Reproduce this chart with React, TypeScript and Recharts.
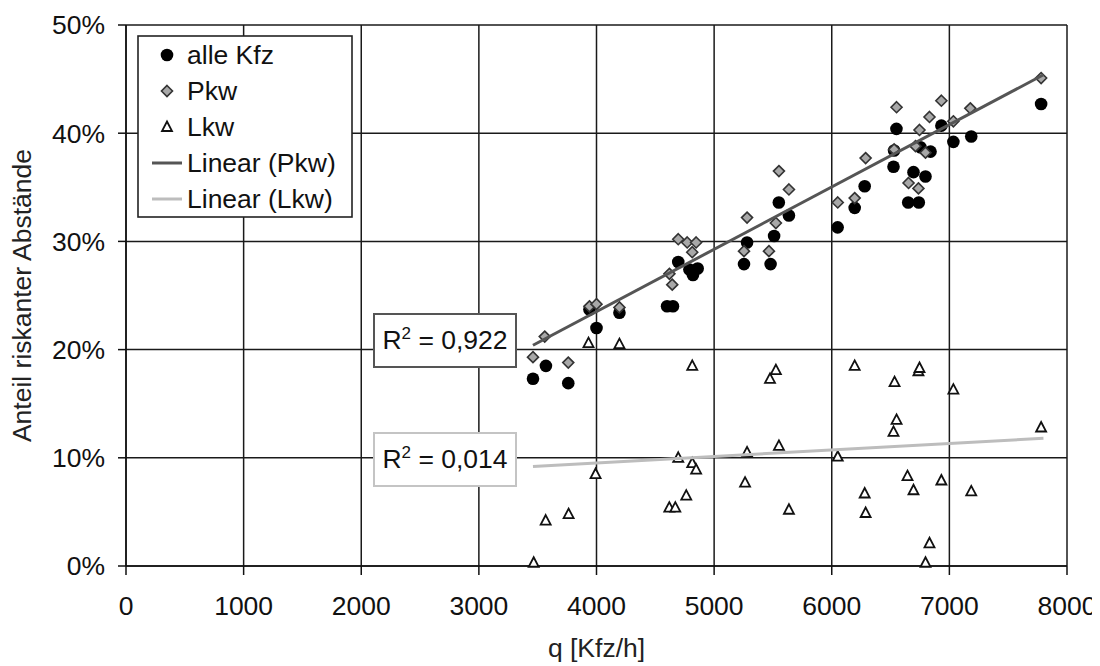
import React from "react";
import { ScatterChart, Scatter, XAxis, YAxis, CartesianGrid, Legend } from "recharts";

// Verkehrsstärke q [Kfz/h] vs. Anteil riskanter Abstände [%]
const alleKfz = [
  { x: 3460, y: 17.3 }, { x: 3570, y: 18.5 }, { x: 3760, y: 16.9 }, { x: 3940, y: 23.7 },
  { x: 4000, y: 22.0 }, { x: 4195, y: 23.4 }, { x: 4600, y: 24.0 }, { x: 4650, y: 24.0 },
  { x: 4695, y: 28.1 }, { x: 4790, y: 27.4 }, { x: 4820, y: 26.9 }, { x: 4860, y: 27.5 },
  { x: 5254, y: 27.9 }, { x: 5280, y: 29.9 }, { x: 5480, y: 27.9 }, { x: 5510, y: 30.5 },
  { x: 5550, y: 33.6 }, { x: 5636, y: 32.4 }, { x: 6050, y: 31.3 }, { x: 6195, y: 33.1 },
  { x: 6280, y: 35.1 }, { x: 6525, y: 36.9 }, { x: 6530, y: 38.4 }, { x: 6550, y: 40.4 },
  { x: 6650, y: 33.6 }, { x: 6695, y: 36.4 }, { x: 6740, y: 33.6 }, { x: 6754, y: 38.7 },
  { x: 6797, y: 36.0 }, { x: 6840, y: 38.3 }, { x: 6932, y: 40.7 }, { x: 7034, y: 39.2 },
  { x: 7186, y: 39.7 }, { x: 7780, y: 42.7 }
];

const pkw = [
  { x: 3460, y: 19.3 }, { x: 3560, y: 21.2 }, { x: 3760, y: 18.8 }, { x: 3940, y: 24.0 },
  { x: 4000, y: 24.2 }, { x: 4195, y: 23.9 }, { x: 4620, y: 27.0 }, { x: 4644, y: 26.0 },
  { x: 4695, y: 30.2 }, { x: 4771, y: 29.9 }, { x: 4814, y: 29.0 }, { x: 4847, y: 29.9 },
  { x: 5254, y: 29.1 }, { x: 5280, y: 32.2 }, { x: 5466, y: 29.1 }, { x: 5525, y: 31.7 },
  { x: 5551, y: 36.5 }, { x: 5636, y: 34.8 }, { x: 6051, y: 33.6 }, { x: 6195, y: 34.0 },
  { x: 6288, y: 37.7 }, { x: 6530, y: 38.5 }, { x: 6551, y: 42.4 }, { x: 6653, y: 35.4 },
  { x: 6712, y: 38.8 }, { x: 6737, y: 34.9 }, { x: 6746, y: 40.3 }, { x: 6797, y: 38.2 },
  { x: 6831, y: 41.5 }, { x: 6932, y: 43.0 }, { x: 7034, y: 41.1 }, { x: 7178, y: 42.3 },
  { x: 7780, y: 45.1 }
];

const lkw = [
  { x: 3466, y: 0.3 }, { x: 3568, y: 4.2 }, { x: 3763, y: 4.8 }, { x: 3932, y: 20.6 },
  { x: 3992, y: 8.5 }, { x: 4195, y: 20.5 }, { x: 4619, y: 5.4 }, { x: 4670, y: 5.4 },
  { x: 4695, y: 10.0 }, { x: 4763, y: 6.5 }, { x: 4814, y: 9.5 }, { x: 4814, y: 18.5 },
  { x: 4847, y: 8.9 }, { x: 5263, y: 7.7 }, { x: 5280, y: 10.5 }, { x: 5475, y: 17.3 },
  { x: 5525, y: 18.1 }, { x: 5551, y: 11.1 }, { x: 5636, y: 5.2 }, { x: 6051, y: 10.1 },
  { x: 6195, y: 18.5 }, { x: 6280, y: 6.7 }, { x: 6288, y: 4.9 }, { x: 6525, y: 12.4 },
  { x: 6534, y: 17.0 }, { x: 6551, y: 13.5 }, { x: 6644, y: 8.3 }, { x: 6695, y: 7.0 },
  { x: 6737, y: 18.0 }, { x: 6746, y: 18.3 }, { x: 6797, y: 0.3 }, { x: 6831, y: 2.1 },
  { x: 6932, y: 7.9 }, { x: 7034, y: 16.3 }, { x: 7186, y: 6.9 }, { x: 7780, y: 12.8 }
];

// Trendlinien (Endpunkte)
const linearPkw = [{ x: 3460, y: 20.4 }, { x: 7800, y: 45.4 }];
const linearLkw = [{ x: 3460, y: 9.2 }, { x: 7800, y: 11.8 }];

const xTicks = [0, 1000, 2000, 3000, 4000, 5000, 6000, 7000, 8000];
const yTicks = [0, 10, 20, 30, 40, 50];

const legendItems = [
  { name: "alle Kfz", kind: "circle" },
  { name: "Pkw", kind: "diamond" },
  { name: "Lkw", kind: "triangle" },
  { name: "Linear (Pkw)", kind: "lineDark" },
  { name: "Linear (Lkw)", kind: "lineLight" }
];

const FONT = "'Liberation Sans', Arial, sans-serif";
const FS = 26.5;
const PKW_LINE = "#555555";
const LKW_LINE = "#bdbdbd";

const Circle = ({ cx, cy }: any) => <circle cx={cx} cy={cy} r={6.3} fill="#000" />;
const Diamond = ({ cx, cy }: any) => (
  <path d={`M${cx},${cy - 5.5}L${cx + 5.5},${cy}L${cx},${cy + 5.5}L${cx - 5.5},${cy}Z`} fill="#a8a8a8" stroke="#333" strokeWidth={1.6} />
);
const Triangle = ({ cx, cy }: any) => (
  <path d={`M${cx},${cy - 5.5}L${cx + 5},${cy + 4}L${cx - 5},${cy + 4}Z`} fill="#fff" stroke="#111" strokeWidth={1.8} />
);
const NoDot = () => <g />;

function LegendBox() {
  return (
    <svg width={216} height={183} style={{ display: "block" }}>
      <rect x={1} y={1} width={214} height={181} fill="#fff" stroke="#222" strokeWidth={1.6} />
      {legendItems.map((item, i) => {
        const cy = 20 + i * 36;
        let icon: React.ReactNode = null;
        if (item.kind === "circle") icon = <Circle cx={30} cy={cy} />;
        if (item.kind === "diamond") icon = <Diamond cx={30} cy={cy} />;
        if (item.kind === "triangle") icon = <Triangle cx={30} cy={cy} />;
        if (item.kind === "lineDark") icon = <line x1={15} x2={45} y1={cy} y2={cy} stroke={PKW_LINE} strokeWidth={3} />;
        if (item.kind === "lineLight") icon = <line x1={15} x2={45} y1={cy} y2={cy} stroke={LKW_LINE} strokeWidth={3} />;
        return (
          <g key={item.name}>
            {icon}
            <text x={50} y={cy} dominantBaseline="central" fontSize={FS} fontFamily={FONT} fill="#111">
              {item.name}
            </text>
          </g>
        );
      })}
    </svg>
  );
}

const rBox = (border: string): React.CSSProperties => ({
  position: "absolute",
  left: 365,
  width: 144,
  height: 55,
  boxSizing: "border-box",
  border: `2px solid ${border}`,
  background: "#fff",
  display: "flex",
  alignItems: "center",
  justifyContent: "center",
  fontFamily: FONT,
  fontSize: FS,
  color: "#111"
});

export default function App() {
  return (
    <div style={{ position: "relative", width: 1092, height: 658 }}>
      <ScatterChart width={1092} height={658} margin={{ top: 17, right: 33, left: 0, bottom: 0 }}>
        <CartesianGrid stroke="#1a1a1a" strokeWidth={1.5} />
        <XAxis
          type="number"
          dataKey="x"
          domain={[0, 8000]}
          ticks={xTicks}
          interval={0}
          height={100}
          tickSize={9}
          tickMargin={21}
          stroke="#111"
          strokeWidth={1.5}
          tick={{ fontSize: FS, fill: "#111", fontFamily: FONT }}
          label={{ value: "q [Kfz/h]", position: "insideBottom", offset: 9, style: { fontSize: FS, fill: "#222", fontFamily: FONT } }}
        />
        <YAxis
          type="number"
          dataKey="y"
          domain={[0, 50]}
          ticks={yTicks}
          interval={0}
          width={118}
          tickSize={8}
          tickMargin={13}
          stroke="#111"
          strokeWidth={1.5}
          tickFormatter={(v) => `${v}%`}
          tick={{ fontSize: FS, fill: "#111", fontFamily: FONT }}
          label={{ value: "Anteil riskanter Abstände", angle: -90, position: "insideLeft", offset: 14, style: { textAnchor: "middle", fontSize: FS, fill: "#222", fontFamily: FONT } }}
        />
        <Legend
          layout="horizontal"
          verticalAlign="middle"
          align="center"
          content={() => <LegendBox />}
          wrapperStyle={{ position: "absolute", left: 129, top: 27, width: 216, height: 183 }}
        />
        <Scatter name="alle Kfz" data={alleKfz} shape={Circle} isAnimationActive={false} />
        <Scatter name="Pkw" data={pkw} shape={Diamond} isAnimationActive={false} />
        <Scatter name="Lkw" data={lkw} shape={Triangle} isAnimationActive={false} />
        <Scatter name="Linear (Pkw)" data={linearPkw} shape={NoDot} line={{ stroke: PKW_LINE, strokeWidth: 3 }} isAnimationActive={false} />
        <Scatter name="Linear (Lkw)" data={linearLkw} shape={NoDot} line={{ stroke: LKW_LINE, strokeWidth: 3 }} isAnimationActive={false} />
      </ScatterChart>
      <div style={{ ...rBox(PKW_LINE), top: 305 }}>
        <span>R<sup style={{ fontSize: 17, verticalAlign: "top", lineHeight: 1 }}>2</sup> = 0,922</span>
      </div>
      <div style={{ ...rBox("#c4c4c4"), top: 424 }}>
        <span>R<sup style={{ fontSize: 17, verticalAlign: "top", lineHeight: 1 }}>2</sup> = 0,014</span>
      </div>
    </div>
  );
}
